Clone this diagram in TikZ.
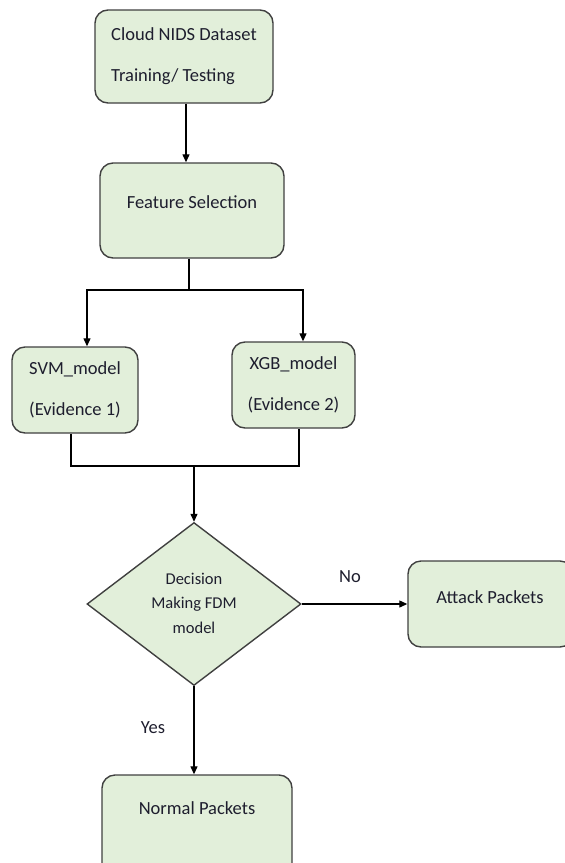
\documentclass[tikz,border=0pt]{standalone}
\usepackage{fontspec}
\setmainfont{Carlito}
\usetikzlibrary{arrows.meta,shapes.geometric}
\definecolor{boxfill}{HTML}{E2EFDA}
\definecolor{boxline}{HTML}{404040}
\definecolor{txt}{HTML}{1E1E2E}
\begin{document}
\begin{tikzpicture}[x=1pt,y=-1pt,
  box/.style={draw=boxline,fill=boxfill,line width=1.4pt,rounded corners=13pt,inner sep=0pt},
  btext/.style={text=txt,font=\fontsize{18.5}{41}\selectfont,inner sep=0pt},
  dtext/.style={text=txt,font=\fontsize{16.5}{24.5}\selectfont,inner sep=0pt,align=center},
  conn/.style={draw=black,line width=1.2pt},
  arr/.style={conn,-{Triangle[length=8pt,width=7pt]}}]
\clip (0,0) rectangle (565,863);
% boxes
\node[box,minimum width=178pt,minimum height=93pt,btext,align=left] (data) at (184,56.5) {Cloud NIDS Dataset\\Training/ Testing};
\node[box,minimum width=184pt,minimum height=95pt] (feat) at (192,210.5) {};
\node[btext] (feattext) at (192,202) {Feature Selection};
\node[box,minimum width=126pt,minimum height=86pt,btext,align=center] (svm) at (75,390) {SVM\_model\\(Evidence 1)};
\node[box,minimum width=123pt,minimum height=86pt,btext,align=center] (xgb) at (293.5,385) {XGB\_model\\(Evidence 2)};
\node[diamond,draw=boxline,fill=boxfill,line width=1.4pt,minimum width=214pt,minimum height=163pt,inner sep=0pt] (dec) at (194,604) {};
\node[dtext] (dectext) at (194,603) {Decision\\Making FDM\\model};
\node[box,minimum width=165pt,minimum height=86pt] (attack) at (490.5,604) {};
\node[btext] (attacktext) at (490,597) {Attack Packets};
\node[box,minimum width=190pt,minimum height=105pt] (normal) at (197,827.5) {};
\node[btext] (normaltext) at (197,808) {Normal Packets};
% labels
\node[btext] (no) at (350,577) {No};
\node[btext] (yes) at (153,728) {Yes};
% junctions
\coordinate (j1) at (189,290);
\coordinate (jl) at (87,290);
\coordinate (jr) at (303,290);
\coordinate (k1) at (71,466);
\coordinate (k2) at (299,466);
\coordinate (k3) at (194,466);
% connectors
\draw[arr] (data.south -| 186,0) -- (feat.north -| 186,0);
\draw[conn] (feat.south -| j1) -- (j1);
\draw[arr] (j1) -- (jl) -- (jl |- svm.north);
\draw[arr] (j1) -- (jr) -- (jr |- xgb.north);
\draw[conn] (svm.south -| k1) -- (k1) -- (k2) -- (xgb.south -| k2);
\draw[arr] (k3) -- (dec.north);
\draw[arr] (dec.east) -- (attack.west);
\draw[arr] (dec.south) -- (dec.south |- normal.north);
\end{tikzpicture}
\end{document}
